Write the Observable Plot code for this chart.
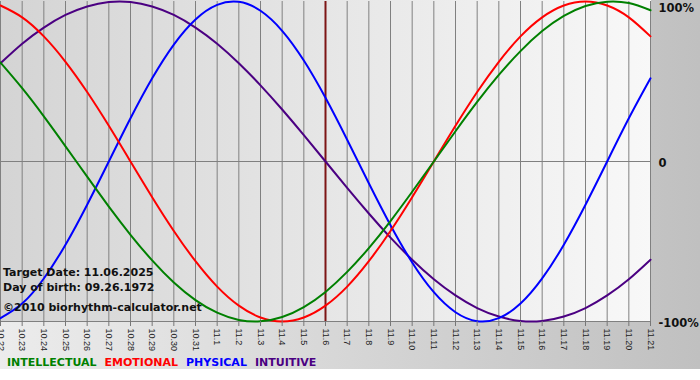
<!DOCTYPE html>
<html>
<head>
<meta charset="utf-8">
<script src="https://cdn.jsdelivr.net/npm/d3@7"></script>
<script src="https://cdn.jsdelivr.net/npm/@observablehq/plot@0.6"></script>
<style>
  html, body { margin: 0; padding: 0; background: #ffffff; }
  #wrap { position: relative; width: 700px; height: 380px; overflow: hidden; font-family: "DejaVu Sans", Verdana, sans-serif; }
  #outer { position: absolute; left: 0; top: 0; width: 700px; height: 369px; background: linear-gradient(to right, #ececec, #c0c0c0); }
  #plotbg { position: absolute; left: 0; top: 0; width: 651px; height: 321px; background: linear-gradient(to right, #d4d4d4, #f8f8f8); }
  #chart { position: absolute; left: 0; top: 0; }
  #info { position: absolute; left: 3px; top: 265px; font-weight: bold; font-size: 11px; line-height: 15px; color: #111; white-space: nowrap; }
  #info .copy { margin-top: 5px; }
  #legend { position: absolute; left: 7px; top: 355px; font-weight: bold; font-size: 11px; line-height: 15px; white-space: nowrap; }
  #legend span { margin-right: 8px; }
</style>
</head>
<body>
<div id="wrap">
  <div id="outer"></div>
  <div id="plotbg"></div>
  <div id="chart"></div>
  <div id="info"></div>
  <div id="legend"></div>
</div>
<script>
// Day labels (month.day)
const dateLabels = ["10.22","10.23","10.24","10.25","10.26","10.27","10.28","10.29","10.30","10.31",
  "11.1","11.2","11.3","11.4","11.5","11.6","11.7","11.8","11.9","11.10",
  "11.11","11.12","11.13","11.14","11.15","11.16","11.17","11.18","11.19","11.20","11.21"];

// Series values in percent, one per day
const intellectual = [61.8,45.8,28.2,9.5,-9.5,-28.2,-45.8,-61.8,-75.6,-86.6,-94.5,-99.0,-99.9,-97.2,-91.0,-81.5,-69.0,-54.1,-37.2,-18.9,0,18.9,37.2,54.1,69.0,81.5,91.0,97.2,99.9,99.0,94.5];
const emotional = [97.5,90.1,78.2,62.3,43.4,22.3,0,-22.3,-43.4,-62.3,-78.2,-90.1,-97.5,-100,-97.5,-90.1,-78.2,-62.3,-43.4,-22.3,0,22.3,43.4,62.3,78.2,90.1,97.5,100,97.5,90.1,78.2];
const physical = [-97.9,-88.8,-73.1,-52.0,-27.0,0,27.0,52.0,73.1,88.8,97.9,99.8,94.2,81.7,63.1,39.8,13.6,-13.6,-39.8,-63.1,-81.7,-94.2,-99.8,-97.9,-88.8,-73.1,-52.0,-27.0,0,27.0,52.0];
const intuitive = [61.4,73.6,83.7,91.6,96.9,99.7,99.7,96.9,91.6,83.7,73.6,61.4,47.6,32.5,16.5,0,-16.5,-32.5,-47.6,-61.4,-73.6,-83.7,-91.6,-96.9,-99.7,-99.7,-96.9,-91.6,-83.7,-73.6,-61.4];

const seriesNames = ["INTELLECTUAL","EMOTIONAL","PHYSICAL","INTUITIVE"];
const seriesColors = ["#008000","#ff0000","#0000ff","#4b0082"];
const targetLabel = "11.6";
const yTicks = [100, 0, -100];
const yTickLabels = ["100%", "0", "-100%"];
const infoLines = ["Target Date: 11.06.2025", "Day of birth: 09.26.1972", "\u00a92010 biorhythm-calculator.net"];

const dayIndex = dateLabels.map((_, i) => i);
const seriesValues = [intellectual, emotional, physical, intuitive];
const tables = seriesValues.map((vals, s) => vals.map((v, i) => ({day: i, value: v, series: seriesNames[s]})));
const yLabelOf = d => yTickLabels[yTicks.indexOf(d)];
const xLabelOf = i => dateLabels[i];

const drawOrder = [3, 2, 1, 0];

const chart = Plot.plot({
  width: 700,
  height: 380,
  marginLeft: 0,
  marginRight: 50,
  marginTop: 1,
  marginBottom: 59,
  style: {background: "transparent", fontFamily: "'Liberation Sans', Arial, sans-serif"},
  x: {type: "linear", domain: [0, dateLabels.length - 1]},
  y: {domain: [-100, 100]},
  marks: [
    Plot.ruleX(dayIndex, {stroke: "#808080", strokeWidth: 1}),
    Plot.ruleY([0, -100], {stroke: "#808080", strokeWidth: 1}),
    Plot.ruleX([dateLabels.indexOf(targetLabel)], {stroke: "#7d1515", strokeWidth: 2}),
    ...drawOrder.map(s => Plot.line(tables[s], {x: "day", y: "value", stroke: seriesColors[s], strokeWidth: 2, curve: "natural"})),
    Plot.axisX(dayIndex, {tickFormat: xLabelOf, tickRotate: 90, tickSize: 5, tickPadding: 2, fontSize: 9, stroke: "#777", fill: "#222", label: null}),
    Plot.axisY([0, -100], {anchor: "right", tickSize: 0, tickPadding: 8, tickFormat: yLabelOf, fontSize: 11.5, fontWeight: "bold", fill: "#111", fontFamily: "'DejaVu Sans', Verdana, sans-serif", dy: 1.5, label: null}),
    Plot.axisY([100], {anchor: "right", tickSize: 0, tickPadding: 8, tickFormat: yLabelOf, fontSize: 11.5, fontWeight: "bold", fill: "#111", fontFamily: "'DejaVu Sans', Verdana, sans-serif", dy: 6.5, label: null})
  ]
});
document.getElementById("chart").appendChild(chart);

const info = document.getElementById("info");
infoLines.forEach((t, i) => {
  const d = document.createElement("div");
  d.textContent = t;
  if (i === 2) d.className = "copy";
  info.appendChild(d);
});

const legend = document.getElementById("legend");
seriesNames.forEach((n, i) => {
  const s = document.createElement("span");
  s.textContent = n;
  s.style.color = seriesColors[i];
  legend.appendChild(s);
});
</script>
</body>
</html>
